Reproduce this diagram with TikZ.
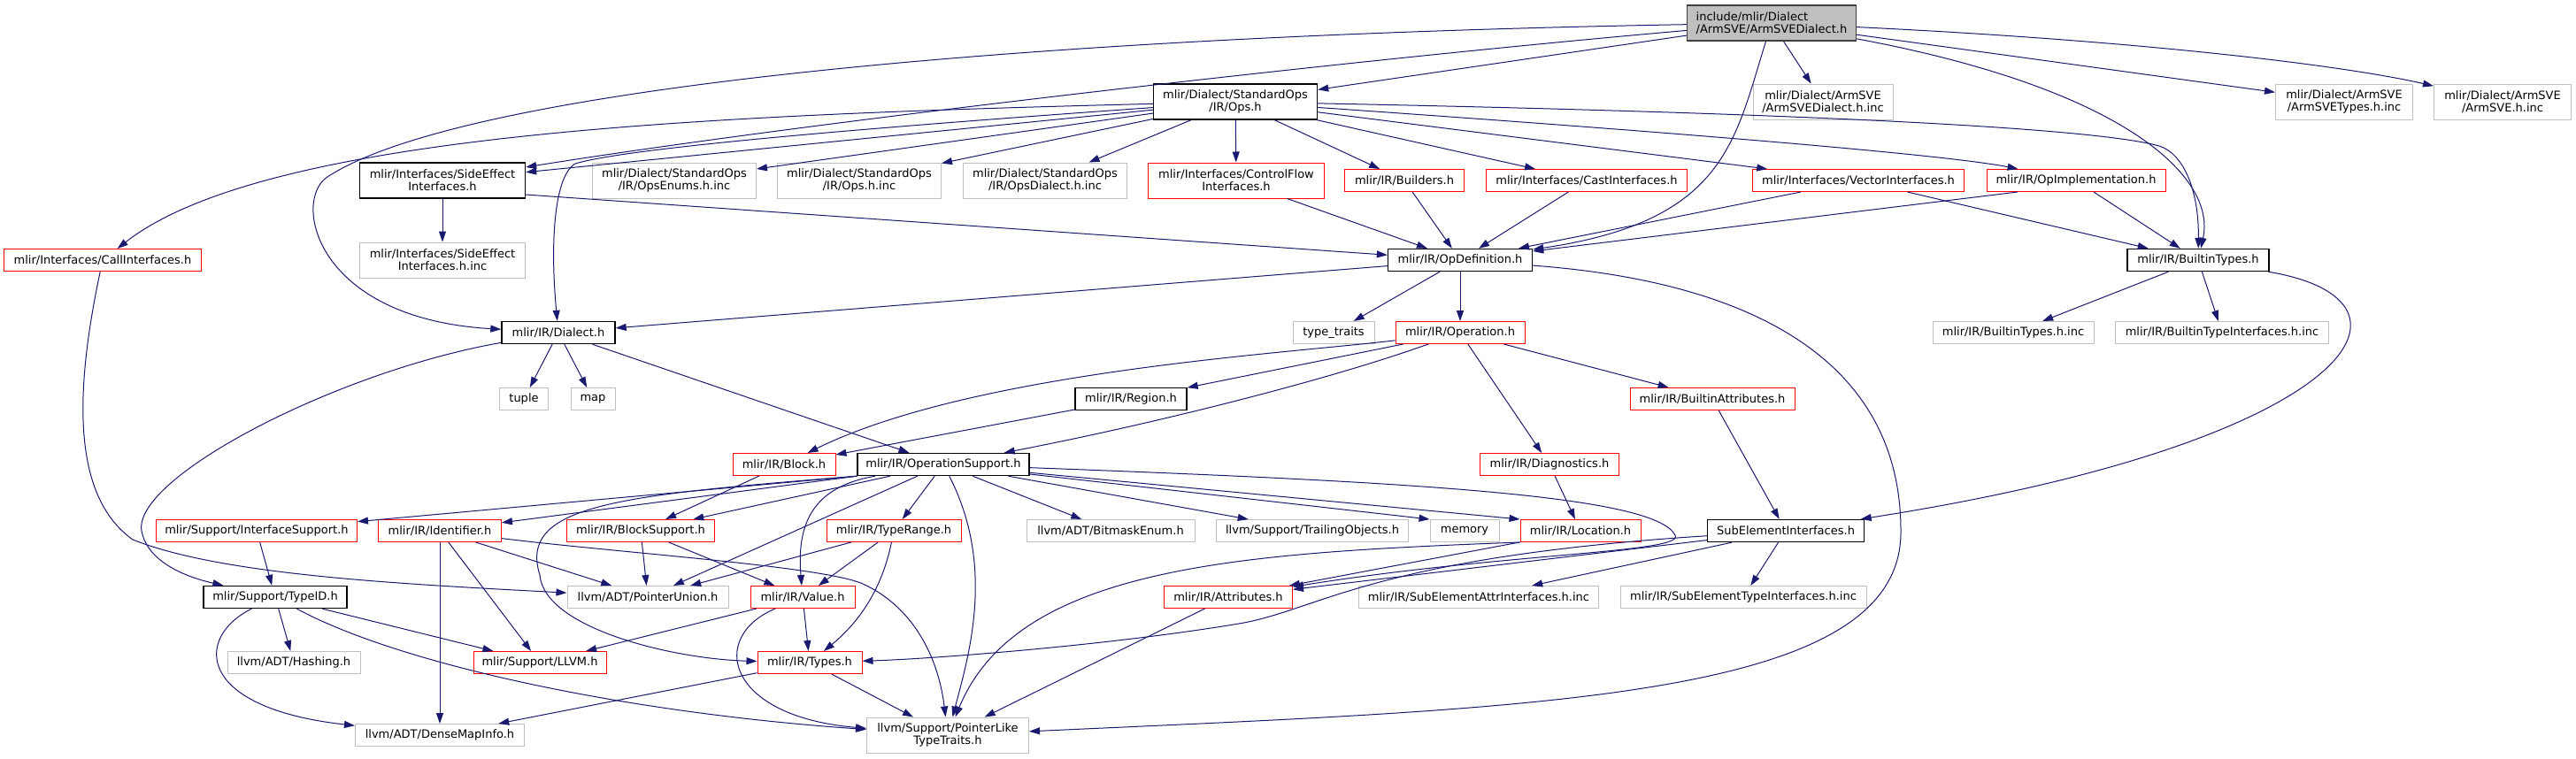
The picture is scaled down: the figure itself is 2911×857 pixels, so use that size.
\documentclass[tikz,border=0pt]{standalone}
\usepackage{fontspec}
\setmainfont{DejaVu Sans}
\usepackage{xcolor}
\usepackage{tikz}
\usetikzlibrary{arrows.meta}
\definecolor{edgeblue}{HTML}{191970}
\definecolor{nodegray}{HTML}{BFBFBF}
\definecolor{nodered}{HTML}{FF0000}

\begin{document}
\begin{tikzpicture}[
  x=0.5pt, y=-0.5pt,
  font=\fontsize{6.5}{7}\selectfont,
  >={Triangle[length=6pt,width=4pt]},
  box/.style={rectangle, align=center, inner xsep=2pt, inner ysep=1pt,
              minimum height=12.5pt, line width=0.5pt},
  twoline/.style={minimum height=20pt},
  root/.style={box, twoline, align=left, draw=black!75, fill=nodegray, line width=0.7pt},
  doc/.style={box, draw=black, line width=0.7pt},
  trunc/.style={box, draw=nodered},
  ext/.style={box, draw=nodegray},
  dep/.style={->, edgeblue, line width=0.5pt}
]
\useasboundingbox (0,0) rectangle (2911,857);

% Header under inspection and its generated includes
\node[root, minimum width=95.5pt] (top) at (2002,26) {include/mlir/Dialect\\/ArmSVE/ArmSVEDialect.h};
\node[doc, twoline, minimum width=92.5pt] (ops) at (1396,115) {mlir/Dialect/StandardOps\\/IR/Ops.h};
\node[ext, twoline, minimum width=79pt] (svedinc) at (2060,115) {mlir/Dialect/ArmSVE\\/ArmSVEDialect.h.inc};
\node[ext, twoline, minimum width=77.5pt] (svetinc) at (2649,115) {mlir/Dialect/ArmSVE\\/ArmSVETypes.h.inc};
\node[ext, twoline, minimum width=77.5pt] (sveinc) at (2828,115) {mlir/Dialect/ArmSVE\\/ArmSVE.h.inc};

% Row under Ops.h
\node[doc, twoline, minimum width=93.5pt] (side) at (500,204) {mlir/Interfaces/SideEffect\\Interfaces.h};
\node[ext, twoline, minimum width=92.5pt] (enums) at (762,204) {mlir/Dialect/StandardOps\\/IR/OpsEnums.h.inc};
\node[ext, twoline, minimum width=92.5pt] (opsinc) at (971,204) {mlir/Dialect/StandardOps\\/IR/Ops.h.inc};
\node[ext, twoline, minimum width=92.5pt] (dialinc) at (1181,204) {mlir/Dialect/StandardOps\\/IR/OpsDialect.h.inc};
\node[trunc, twoline, minimum width=99.5pt] (ctrl) at (1397,204) {mlir/Interfaces/ControlFlow\\Interfaces.h};
\node[trunc, minimum width=67.5pt] (builders) at (1587,204) {mlir/IR/Builders.h};
\node[trunc, minimum width=113.5pt] (cast) at (1793,204) {mlir/Interfaces/CastInterfaces.h};
\node[trunc, minimum width=119.5pt] (vector) at (2100,204) {mlir/Interfaces/VectorInterfaces.h};
\node[trunc, minimum width=101pt] (opimpl) at (2346,204) {mlir/IR/OpImplementation.h};

% OpDefinition row
\node[trunc, minimum width=111.5pt] (call) at (116,294) {mlir/Interfaces/CallInterfaces.h};
\node[ext, twoline, minimum width=93.5pt] (sideinc) at (500,294) {mlir/Interfaces/SideEffect\\Interfaces.h.inc};
\node[doc, minimum width=81.5pt] (opdef) at (1650,294) {mlir/IR/OpDefinition.h};
\node[doc, minimum width=80pt] (btypes) at (2484,294) {mlir/IR/BuiltinTypes.h};

% Dialect / Operation row
\node[doc, minimum width=64pt] (dialect) at (631,376) {mlir/IR/Dialect.h};
\node[ext, minimum width=46pt] (traits) at (1507,376) {type\_traits};
\node[trunc, minimum width=73pt] (operation) at (1650,376) {mlir/IR/Operation.h};
\node[ext, minimum width=91pt] (btinc) at (2275,376) {mlir/IR/BuiltinTypes.h.inc};
\node[ext, minimum width=120.5pt] (btiinc) at (2511,376) {mlir/IR/BuiltinTypeInterfaces.h.inc};

\node[ext, minimum width=27.5pt] (tuple) at (592,451) {tuple};
\node[ext, minimum width=25pt] (map) at (670,451) {map};
\node[doc, minimum width=63pt] (region) at (1278,451) {mlir/IR/Region.h};
\node[trunc, minimum width=93pt] (battr) at (1935,451) {mlir/IR/BuiltinAttributes.h};

\node[trunc, minimum width=58pt] (block) at (886,525) {mlir/IR/Block.h};
\node[doc, minimum width=97pt] (opsup) at (1066,525) {mlir/IR/OperationSupport.h};
\node[trunc, minimum width=78.5pt] (diag) at (1751,525) {mlir/IR/Diagnostics.h};

% Support row
\node[trunc, minimum width=113.5pt] (ifsup) at (290,600) {mlir/Support/InterfaceSupport.h};
\node[trunc, minimum width=69.5pt] (ident) at (497,600) {mlir/IR/Identifier.h};
\node[trunc, minimum width=83.5pt] (blksup) at (724,600) {mlir/IR/BlockSupport.h};
\node[trunc, minimum width=76pt] (trange) at (1010,600) {mlir/IR/TypeRange.h};
\node[ext, minimum width=95pt] (bitmask) at (1255,600) {llvm/ADT/BitmaskEnum.h};
\node[ext, minimum width=108.5pt] (trailing) at (1483,600) {llvm/Support/TrailingObjects.h};
\node[ext, minimum width=39pt] (memory) at (1655,600) {memory};
\node[trunc, minimum width=68pt] (location) at (1786,600) {mlir/IR/Location.h};
\node[doc, minimum width=88.5pt] (subel) at (2018,600) {SubElementInterfaces.h};

\node[doc, minimum width=81pt] (typeid) at (311,675) {mlir/Support/TypeID.h};
\node[ext, minimum width=91pt] (punion) at (732,675) {llvm/ADT/PointerUnion.h};
\node[trunc, minimum width=59pt] (value) at (907,675) {mlir/IR/Value.h};
\node[trunc, minimum width=72.5pt] (attrs) at (1388,675) {mlir/IR/Attributes.h};
\node[ext, minimum width=135.5pt] (seainc) at (1671,675) {mlir/IR/SubElementAttrInterfaces.h.inc};
\node[ext, minimum width=139pt] (setinc) at (1970,675) {mlir/IR/SubElementTypeInterfaces.h.inc};

% Bottom rows
\node[ext, minimum width=75pt] (hashing) at (332,749) {llvm/ADT/Hashing.h};
\node[trunc, minimum width=75pt] (llvm) at (610,749) {mlir/Support/LLVM.h};
\node[trunc, minimum width=59pt] (types) at (915,749) {mlir/IR/Types.h};
\node[ext, minimum width=95.5pt] (dmi) at (497,831) {llvm/ADT/DenseMapInfo.h};
\node[ext, twoline, minimum width=91.5pt] (plike) at (1071,831) {llvm/Support/PointerLike\\TypeTraits.h};

% Edges: from the ArmSVE dialect header
\draw[dep] (top) -- (ops);
\draw[dep] (top) .. controls (1500,70) and (900,140) .. (side);
\draw[dep] (top) .. controls (1200,40) and (530,95) .. (370,200) .. controls (330,226) and (355,360) .. (dialect);
\draw[dep] (top) .. controls (1960,160) and (1950,250) .. (opdef);
\draw[dep] (top) -- (svedinc);
\draw[dep] (top) -- (svetinc);
\draw[dep] (top) .. controls (2400,45) and (2640,72) .. (sveinc);
\draw[dep] (top) .. controls (2400,100) and (2505,200) .. (btypes);

% Edges: Ops.h
\draw[dep] (ops) .. controls (800,130) and (300,150) .. (call);
\draw[dep] (ops) -- (side);
\draw[dep] (ops) .. controls (900,150) and (700,170) .. (650,185) .. controls (625,200) and (622,280) .. (dialect);
\draw[dep] (ops) -- (enums);
\draw[dep] (ops) -- (opsinc);
\draw[dep] (ops) -- (dialinc);
\draw[dep] (ops) -- (ctrl);
\draw[dep] (ops) -- (builders);
\draw[dep] (ops) -- (cast);
\draw[dep] (ops) -- (vector);
\draw[dep] (ops) .. controls (1900,150) and (2200,175) .. (opimpl);
\draw[dep] (ops) .. controls (1900,125) and (2350,140) .. (2440,165) .. controls (2470,175) and (2485,220) .. (btypes);

% Edges: into OpDefinition and BuiltinTypes
\draw[dep] (side) -- (sideinc);
\draw[dep] ([yshift=-8pt]side.east) -- (opdef);
\draw[dep] (ctrl) -- (opdef);
\draw[dep] (builders) -- (opdef);
\draw[dep] (cast) -- (opdef);
\draw[dep] (vector) -- (opdef);
\draw[dep] (vector) -- (btypes);
\draw[dep] ([xshift=-33pt]opimpl.south) -- (opdef);
\draw[dep] (opimpl) -- (btypes);

% Edges: OpDefinition
\draw[dep] (opdef) -- (dialect);
\draw[dep] (opdef) -- (traits);
\draw[dep] (opdef) -- (operation);
\draw[dep] (opdef) .. controls (2000,320) and (2148,420) .. (2148,600) .. controls (2150,790) and (1750,800) .. (plike);

% Edges: BuiltinTypes
\draw[dep] (btypes) -- (btinc);
\draw[dep] (btypes) -- (btiinc);
\draw[dep] (btypes) .. controls (2760,340) and (2660,500) .. (subel);

% Edges: CallInterfaces and Dialect
\draw[dep] (call) .. controls (85,440) and (80,560) .. (150,610) .. controls (250,650) and (450,660) .. (punion);
\draw[dep] (dialect) -- (tuple);
\draw[dep] (dialect) -- (map);
\draw[dep] (dialect) -- (opsup);
\draw[dep] (dialect) .. controls (380,420) and (150,540) .. (160,600) .. controls (165,630) and (200,650) .. (typeid);

% Edges: Operation
\draw[dep] (operation) -- (region);
\draw[dep] (operation) .. controls (1450,400) and (1100,420) .. (block);
\draw[dep] (operation) .. controls (1500,430) and (1300,480) .. (opsup);
\draw[dep] (operation) -- (diag);
\draw[dep] (operation) -- (battr);
\draw[dep] (region) -- (block);
\draw[dep] (battr) -- (subel);
\draw[dep] (block) -- (blksup);
\draw[dep] (diag) -- (location);

% Edges: OperationSupport
\draw[dep] (opsup.south west) -- (ifsup);
\draw[dep] (opsup.south west) -- (ident);
\draw[dep] (opsup) -- (blksup);
\draw[dep] (opsup) -- (punion);
\draw[dep] (opsup) .. controls (920,550) and (900,590) .. (value);
\draw[dep] (opsup) -- (trange);
\draw[dep] (opsup) .. controls (1125,640) and (1095,740) .. (plike);
\draw[dep] (opsup) -- (bitmask);
\draw[dep] (opsup) -- (trailing);
\draw[dep] (opsup) -- (memory.north west);
\draw[dep] (opsup) -- (location.north west);
\draw[dep] (opsup) .. controls (1600,545) and (1870,560) .. (1893,605) .. controls (1905,625) and (1700,625) .. (attrs);
\draw[dep] (opsup.south west) .. controls (700,560) and (585,570) .. (610,650) .. controls (615,710) and (760,745) .. (types);

% Edges: Identifier, BlockSupport, TypeRange
\draw[dep] (ident) -- (punion);
\draw[dep] (ident) -- (llvm);
\draw[dep] (ident) -- (dmi);
\draw[dep] (ident) .. controls (700,625) and (930,640) .. (975,660) .. controls (1030,685) and (1060,740) .. (plike);
\draw[dep] (blksup) -- (punion);
\draw[dep] (blksup) -- (value);
\draw[dep] (trange) -- (punion);
\draw[dep] (trange) -- (value);
\draw[dep] (trange) .. controls (998,660) and (975,700) .. (types);

% Edges: Value and Types
\draw[dep] (value) -- (types);
\draw[dep] (value) .. controls (800,720) and (820,810) .. (plike);
\draw[dep] (value) -- (llvm);
\draw[dep] (types) -- (plike);
\draw[dep] (types) -- (dmi);

% Edges: TypeID and InterfaceSupport
\draw[dep] (typeid) -- (hashing);
\draw[dep] (typeid) -- (llvm);
\draw[dep] (typeid) .. controls (220,720) and (220,800) .. (dmi);
\draw[dep] (typeid) .. controls (450,750) and (700,805) .. (plike);
\draw[dep] (ifsup) -- (typeid);

% Edges: Location, SubElementInterfaces, Attributes
\draw[dep] (location) -- (attrs);
\draw[dep] (location.south west) .. controls (1400,625) and (1150,640) .. (plike);
\draw[dep] (subel) -- (attrs);
\draw[dep] (subel) -- (seainc);
\draw[dep] (subel) -- (setinc);
\draw[dep] (subel) .. controls (1550,630) and (1490,690) .. (1400,705) .. controls (1250,730) and (1050,745) .. (types);
\draw[dep] (attrs) -- (plike);

\end{tikzpicture}
\end{document}
